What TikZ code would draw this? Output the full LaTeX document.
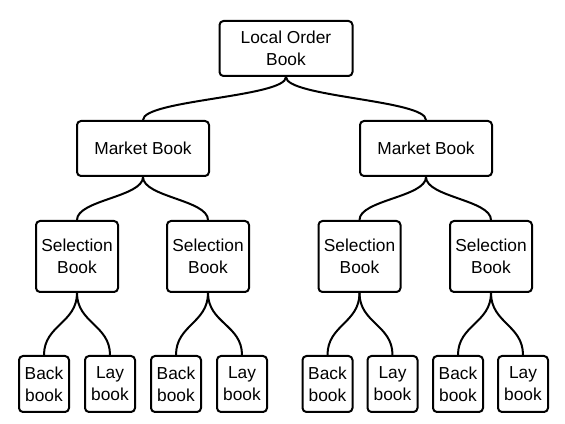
\documentclass[tikz,border=0pt]{standalone}
\usepackage{fontspec}
\setmainfont{Liberation Sans}

\begin{document}
\begin{tikzpicture}[x=0.75pt,y=-0.75pt,
  book/.style={draw, line width=1.5pt, rounded corners=3pt, align=center, inner sep=0pt,
    font=\fontsize{13}{16.5}\selectfont},
  rootbook/.style={book, minimum width=99.75pt, minimum height=41.25pt},
  marketbook/.style={book, minimum width=99pt, minimum height=41.25pt},
  selbook/.style={book, minimum width=61.5pt, minimum height=53.25pt},
  leafbook/.style={book, minimum width=37.5pt, minimum height=42pt},
  link/.style={line width=1.5pt}]
\useasboundingbox (0,0) rectangle (565,424);

% Root
\node [rootbook] (local) at (286,48.5) {Local Order\\Book};

% Market books
\node [marketbook] (mktA) at (143,148.5) {Market Book};
\node [marketbook] (mktB) at (426,148.5) {Market Book};

% Selection books
\node [selbook] (selA) at (77,256.5) {Selection\\Book};
\node [selbook] (selB) at (208,256.5) {Selection\\Book};
\node [selbook] (selC) at (359.5,256.5) {Selection\\Book};
\node [selbook] (selD) at (491,256.5) {Selection\\Book};

% Back / Lay books
\node [leafbook] (backA) at (44,384) {Back\\book};
\node [leafbook] (layA) at (110,384) {Lay\\book};
\node [leafbook] (backB) at (176,384) {Back\\book};
\node [leafbook] (layB) at (242,384) {Lay\\book};
\node [leafbook] (backC) at (327.5,384) {Back\\book};
\node [leafbook] (layC) at (392.5,384) {Lay\\book};
\node [leafbook] (backD) at (458,384) {Back\\book};
\node [leafbook] (layD) at (523,384) {Lay\\book};

% Links root -> market
\draw [link] (local.south) .. controls +(0,20) and +(0,-20) .. (mktA.north);
\draw [link] (local.south) .. controls +(0,20) and +(0,-20) .. (mktB.north);

% Links market -> selection
\draw [link] (mktA.south) .. controls +(0,20) and +(0,-20) .. (selA.north);
\draw [link] (mktA.south) .. controls +(0,20) and +(0,-20) .. (selB.north);
\draw [link] (mktB.south) .. controls +(0,20) and +(0,-20) .. (selC.north);
\draw [link] (mktB.south) .. controls +(0,20) and +(0,-20) .. (selD.north);

% Links selection -> back/lay
\draw [link] (selA.south) .. controls +(0,30) and +(0,-30) .. (backA.north);
\draw [link] (selA.south) .. controls +(0,30) and +(0,-30) .. (layA.north);
\draw [link] (selB.south) .. controls +(0,30) and +(0,-30) .. (backB.north);
\draw [link] (selB.south) .. controls +(0,30) and +(0,-30) .. (layB.north);
\draw [link] (selC.south) .. controls +(0,30) and +(0,-30) .. (backC.north);
\draw [link] (selC.south) .. controls +(0,30) and +(0,-30) .. (layC.north);
\draw [link] (selD.south) .. controls +(0,30) and +(0,-30) .. (backD.north);
\draw [link] (selD.south) .. controls +(0,30) and +(0,-30) .. (layD.north);

\end{tikzpicture}
\end{document}
